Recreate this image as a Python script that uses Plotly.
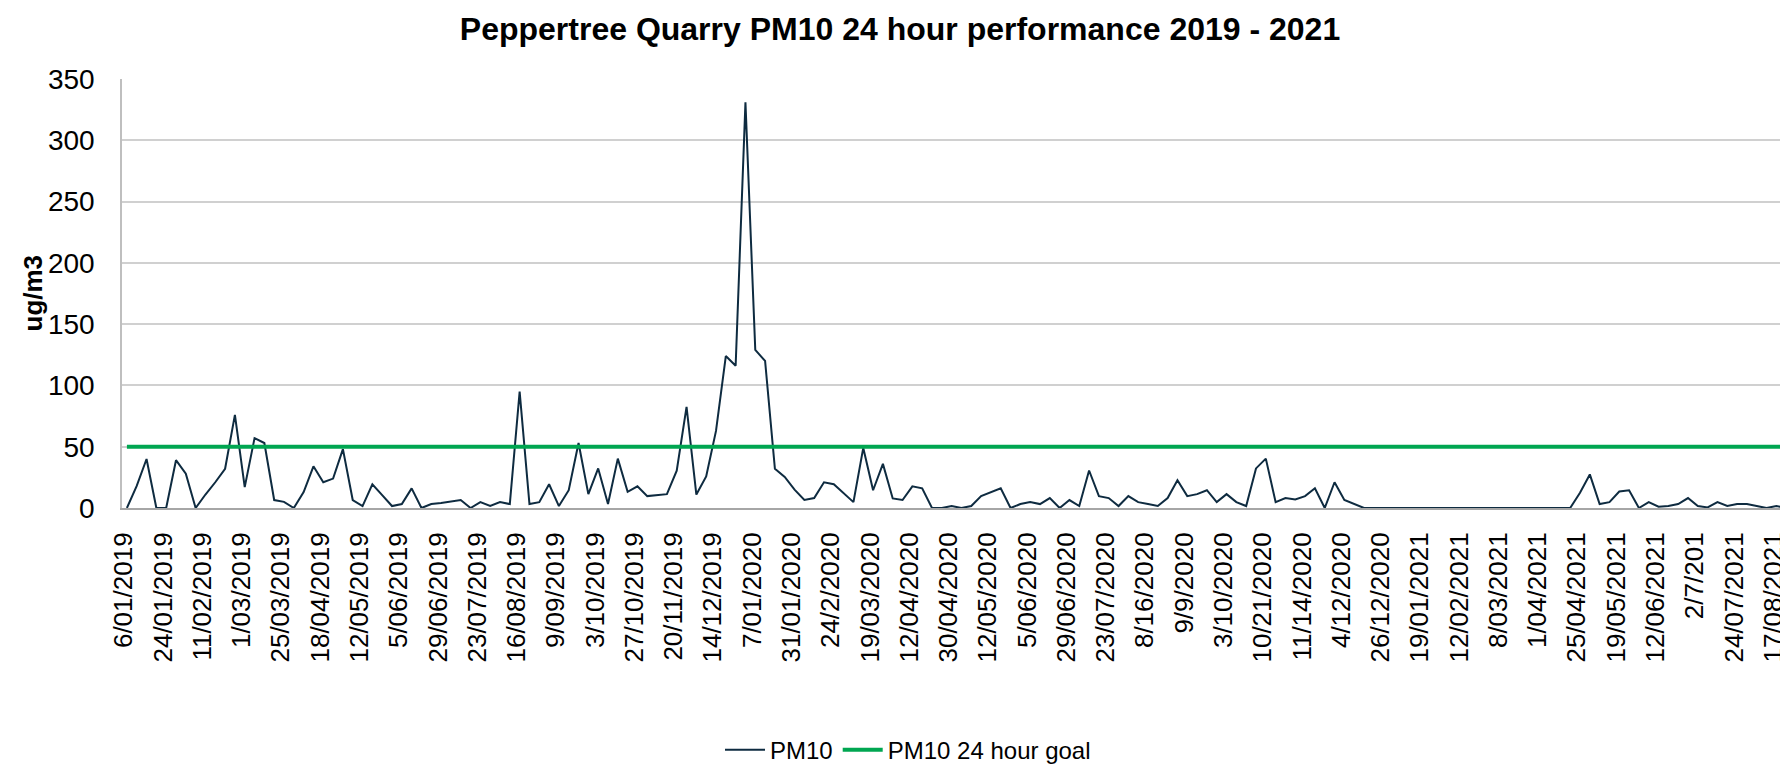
import plotly.graph_objects as go

# Tick labels shown on the category axis (every 4th sample)
tick_labels = [
    "6/01/2019", "24/01/2019", "11/02/2019", "1/03/2019", "25/03/2019", "18/04/2019",
    "12/05/2019", "5/06/2019", "29/06/2019", "23/07/2019", "16/08/2019", "9/09/2019",
    "3/10/2019", "27/10/2019", "20/11/2019", "14/12/2019", "7/01/2020", "31/01/2020",
    "24/2/2020", "19/03/2020", "12/04/2020", "30/04/2020", "12/05/2020", "5/06/2020",
    "29/06/2020", "23/07/2020", "8/16/2020", "9/9/2020", "3/10/2020", "10/21/2020",
    "11/14/2020", "4/12/2020", "26/12/2020", "19/01/2021", "12/02/2021", "8/03/2021",
    "1/04/2021", "25/04/2021", "19/05/2021", "12/06/2021", "2/7/201", "24/07/2021",
    "17/08/2021",
]

# PM10 24-hour samples (ug/m3)
pm10 = [
    0, 18, 40, 0, 0, 39, 28, 0, 11, 21,
    32, 76, 17, 57, 53, 6.5, 5, 0, 13, 34,
    21, 24, 48, 6.5, 1.6, 19.4, 10.5, 1.6, 3.2, 16,
    0, 3.2, 4, 5.4, 6.5, 0, 4.8, 1.6, 4.8, 3.2,
    95, 3.2, 4.8, 19.4, 1.6, 14.5, 53, 11.3, 32.3, 3.2,
    40.3, 13.2, 17.7, 9.7, 10.5, 11.3, 30.4, 82.5, 11, 25.8,
    62.9, 124, 116, 331, 129, 120, 32, 25.3, 15, 6.5,
    8.1, 21, 19.4, 11.8, 4.8, 49, 14.5, 36, 7.8, 6.5,
    17.7, 16.1, 0, 0, 1.6, 0, 1.6, 9.7, 12.9, 16.1,
    0, 3.2, 4.8, 3.2, 8.1, 0, 6.5, 1.6, 30.6, 9.7,
    8.1, 1.6, 9.7, 4.8, 3.2, 1.6, 8.1, 22.6, 9.7, 11.3,
    14.5, 4.8, 11.3, 4.8, 1.6, 32.3, 40.3, 4.8, 8.1, 7,
    9.7, 16.1, 0, 21, 6.5, 3.2, 0, 0, 0, 0,
    0, 0, 0, 0, 0, 0, 0, 0, 0, 0,
    0, 0, 0, 0, 0, 0, 0, 0, 12.4, 27.4,
    3.2, 4.8, 13.5, 14.5, 0, 4.8, 1, 1.6, 3.2, 8.1,
    1.6, 0.5, 4.8, 1.6, 3.2, 3.2, 1.6, 0, 1.6, 0,
    3.8,
]

goal_value = 50
goal = [goal_value for _ in pm10]

x_idx = list(range(len(pm10)))
tickvals = x_idx[::4][:len(tick_labels)]

W, H = 1788, 765
ML, MR, MT, MB = 114, 0, 71, 260

fig = go.Figure()
fig.add_trace(go.Scatter(
    x=x_idx, y=pm10, mode="lines", name="PM10",
    line=dict(color="#0E2B40", width=2),
))
fig.add_trace(go.Scatter(
    x=x_idx, y=goal, mode="lines", name="PM10 24 hour goal",
    line=dict(color="#00A651", width=4),
))

fig.update_layout(
    width=W, height=H,
    margin=dict(l=ML, r=MR, t=MT, b=MB, pad=0),
    paper_bgcolor="white", plot_bgcolor="white",
    font=dict(family="Liberation Sans, Arial, sans-serif", color="black"),
    title=dict(
        text="<b>Peppertree Quarry PM10 24 hour performance 2019 - 2021</b>",
        font=dict(size=32, color="black"),
        x=892 / W, xref="container", xanchor="center",
        y=1 - 21 / H, yref="container", yanchor="middle",
    ),
    showlegend=True,
    legend=dict(
        orientation="h", x=(900 - ML) / (W - ML - MR), xanchor="center",
        y=-(750 - 505) / (765 - MT - MB), yanchor="middle",
        font=dict(size=24, color="black"), bgcolor="rgba(0,0,0,0)",
        itemwidth=40,
    ),
    xaxis=dict(
        range=[-0.5, 170.0], tickmode="array", tickvals=tickvals, ticktext=tick_labels,
        tickangle=-90, tickfont=dict(size=26, color="black"),
        showgrid=False, zeroline=False, showline=True, linecolor="#A6A6A6", linewidth=2,
        ticks="", ticklabelstandoff=12, ticklabelshift=-3,
    ),
    yaxis=dict(
        range=[0, 350], dtick=50, tickfont=dict(size=28, color="black"),
        showgrid=True, gridcolor="#D0D0D0", gridwidth=1.5, zeroline=False,
        showline=True, linecolor="#BFBFBF", linewidth=1.5, ticks="", ticklabelstandoff=20,
    ),
    annotations=[dict(
        text="<b>ug/m3</b>", textangle=-90, xref="paper", yref="paper",
        x=(24 - ML) / (W - ML - MR), y=0.5, xanchor="center", yanchor="middle",
        showarrow=False, font=dict(size=26, color="black"),
    )],
)

fig.write_html("out.html")
